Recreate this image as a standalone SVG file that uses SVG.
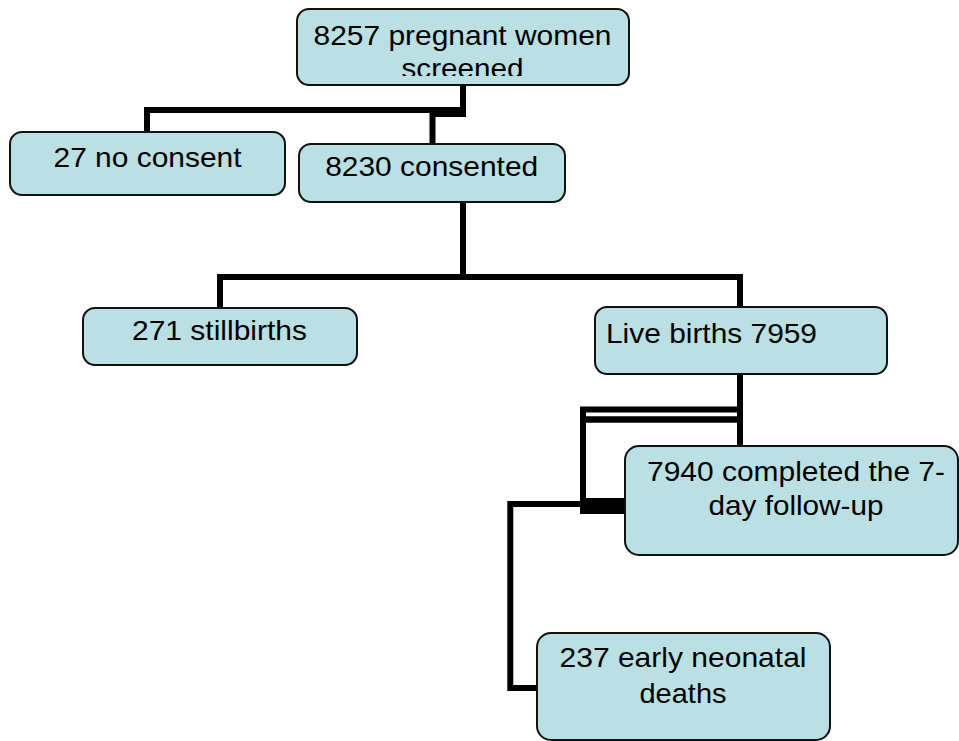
<svg xmlns="http://www.w3.org/2000/svg" width="959" height="741" viewBox="0 0 959 741">
<style>
.box{fill:#bbe0e3;stroke:#111;stroke-width:2}
.t{font-family:"Liberation Sans",Arial,sans-serif;font-size:28.5px;fill:#000}
.c{fill:none;stroke:#000;stroke-width:6;stroke-linejoin:miter;stroke-linecap:butt}
</style>
<defs>
<clipPath id="clipTop"><rect x="297" y="9" width="332" height="67"/></clipPath>
</defs>
<rect width="959" height="741" fill="#fff"/>
<g id="connectors">
<path class="c" d="M463,85 V110 H147 V132"/>
<path class="c" d="M463,85 V114 H432.5 V145"/>
<path class="c" d="M463,202 V277"/>
<path class="c" d="M220,308 V277 H740 V308"/>
<path class="c" d="M740,374 V409.5 H583 V506 H625"/>
<path class="c" d="M740,409.5 V446"/>
<path class="c" style="stroke-width:6.5" d="M740,419.5 H584"/>
<path class="c" d="M580,504 H510.3 V688 H537"/>
<rect x="580" y="498" width="45" height="16" fill="#000"/>
</g>
<g id="n_screened">
<rect class="box" x="297" y="9" width="332" height="76" rx="12"/>
<text class="t" x="462.5" y="44.5" text-anchor="middle" textLength="298" lengthAdjust="spacingAndGlyphs">8257 pregnant women</text>
<text class="t" x="462.5" y="78" text-anchor="middle" textLength="122" lengthAdjust="spacingAndGlyphs" clip-path="url(#clipTop)">screened</text>
</g>
<g id="n_noconsent">
<rect class="box" x="10" y="132" width="275" height="63" rx="12"/>
<text class="t" x="147.5" y="167" text-anchor="middle" textLength="188" lengthAdjust="spacingAndGlyphs">27 no consent</text>
</g>
<g id="n_consented">
<rect class="box" x="299" y="144" width="266" height="58" rx="12"/>
<text class="t" x="431.7" y="175.5" text-anchor="middle" textLength="213" lengthAdjust="spacingAndGlyphs">8230 consented</text>
</g>
<g id="n_stillbirths">
<rect class="box" x="83" y="308" width="274" height="57" rx="12"/>
<text class="t" x="219.5" y="340" text-anchor="middle" textLength="175" lengthAdjust="spacingAndGlyphs">271 stillbirths</text>
</g>
<g id="n_livebirths">
<rect class="box" x="595" y="307" width="292" height="67" rx="12"/>
<text class="t" x="606" y="343" textLength="211" lengthAdjust="spacingAndGlyphs">Live births 7959</text>
</g>
<g id="n_followup">
<rect class="box" x="625" y="446" width="333" height="109" rx="14"/>
<text class="t" x="796" y="480.5" text-anchor="middle" textLength="298" lengthAdjust="spacingAndGlyphs">7940 completed the 7-</text>
<text class="t" x="796" y="515" text-anchor="middle" textLength="175" lengthAdjust="spacingAndGlyphs">day follow-up</text>
</g>
<g id="n_deaths">
<rect class="box" x="537" y="633" width="293" height="107" rx="14"/>
<text class="t" x="683" y="667" text-anchor="middle" textLength="247" lengthAdjust="spacingAndGlyphs">237 early neonatal</text>
<text class="t" x="683" y="703" text-anchor="middle" textLength="87" lengthAdjust="spacingAndGlyphs">deaths</text>
</g>
</svg>
